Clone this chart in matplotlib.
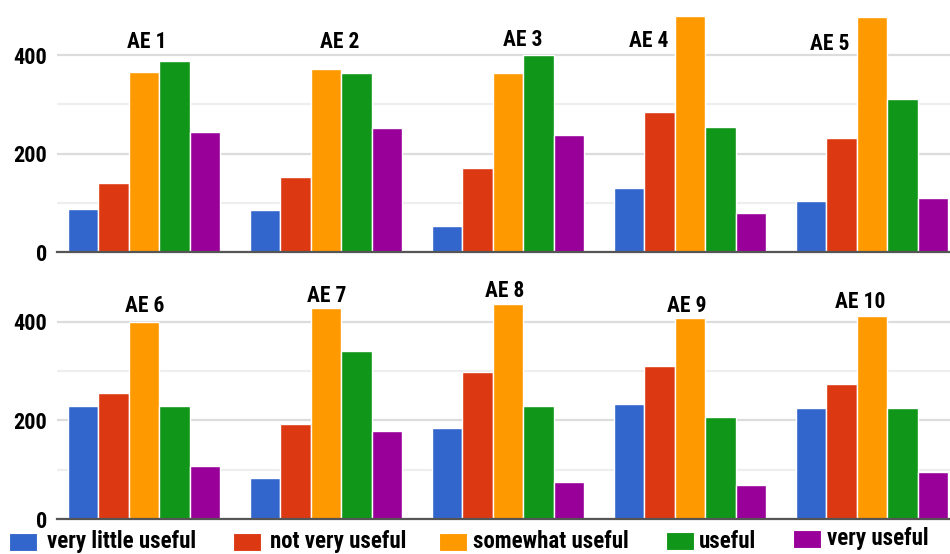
import matplotlib
matplotlib.use("Agg")
import matplotlib.pyplot as plt
from matplotlib import font_manager as fm
from matplotlib.patches import Rectangle
import numpy as np

# ---- data ----
categories = ['AE 1', 'AE 2', 'AE 3', 'AE 4', 'AE 5',
              'AE 6', 'AE 7', 'AE 8', 'AE 9', 'AE 10']
series_names = ['very little useful', 'not very useful', 'somewhat useful',
                'useful', 'very useful']
very_little = [88, 86, 54, 131, 103, 230, 83, 185, 233, 225]
not_very = [140, 153, 170, 284, 231, 255, 193, 299, 310, 273]
somewhat = [366, 372, 363, 480, 477, 400, 428, 436, 408, 411]
useful = [388, 363, 400, 255, 310, 230, 340, 230, 207, 225]
very_useful = [244, 253, 238, 80, 111, 108, 179, 74, 68, 95]
y_ticks = [0, 200, 400]
y_tick_labels = ['0', '200', '400']

series = [very_little, not_very, somewhat, useful, very_useful]
colors = ['#3366cc', '#dc3912', '#ff9900', '#109618', '#990099']

# ---- font ----
available = {f.name for f in fm.fontManager.ttflist}
family = 'DejaVu Sans'
for cand in ['Liberation Sans Narrow', 'Roboto Condensed', 'DejaVu Sans Condensed',
             'Open Sans Condensed', 'Liberation Sans']:
    if cand in available:
        family = cand
        break
plt.rcParams['font.family'] = [family, 'DejaVu Sans']
plt.rcParams['font.weight'] = 'bold'

W, H = 950, 554
fig = plt.figure(figsize=(W / 100, H / 100), dpi=100)

# title label positions (data x offset, data y) per panel
title_pos = [(0.016, 427), (1.077, 426), (2.082, 430), (2.775, 428), (3.769, 423),
             (0.005, 431), (1.005, 453), (1.984, 462), (2.984, 432), (3.934, 440)]

px_per_unit = 197.3 / 400.0
left_px, right_px = 57, 950
center0_px, pitch_px = 144, 182
xlim = (-(center0_px - left_px) / pitch_px, (right_px - center0_px) / pitch_px)

panels = [
    dict(bottom_px=252.3, top_px=0.0, idx=range(0, 5)),
    dict(bottom_px=519.0, top_px=268.0, idx=range(5, 10)),
]

bar_w = 30.4 / pitch_px
for p in panels:
    height_px = p['bottom_px'] - p['top_px']
    ax = fig.add_axes([left_px / W, (H - p['bottom_px']) / H,
                       (right_px - left_px) / W, height_px / H])
    idx = list(p['idx'])
    x = np.arange(len(idx))
    for j, (vals, c) in enumerate(zip(series, colors)):
        ax.bar(x + (j - 2) * bar_w, [vals[i] for i in idx], width=bar_w,
               color=c, edgecolor='white', linewidth=1.0, zorder=3)
    ax.set_xlim(*xlim)
    ax.set_ylim(0, height_px / px_per_unit)
    ax.set_yticks(y_ticks)
    ax.set_yticklabels(y_tick_labels)
    ax.set_yticks([100, 300], minor=True)
    ax.grid(which='major', axis='y', color='#dcdcdc', lw=1.6, zorder=0)
    ax.grid(which='minor', axis='y', color='#eeeeee', lw=1.6, zorder=0)
    ax.tick_params(axis='y', which='both', length=0, pad=7, labelsize=16)
    ax.set_xticks([])
    for s in ['top', 'right', 'left']:
        ax.spines[s].set_visible(False)
    ax.spines['bottom'].set_color('#555555')
    ax.spines['bottom'].set_linewidth(1.6)
    ax.spines['bottom'].set_zorder(4)
    for i in idx:
        tx, ty = title_pos[i]
        ax.text(tx, ty, categories[i], ha='center', va='center',
                fontsize=15.5, fontweight='bold', color='black', zorder=5,
                clip_on=False)

# ---- legend (manual layout, pixel positions from top-left) ----
sq_x = [9, 233, 439, 666, 793]
sq_top = [533, 533, 533, 532, 530]
txt_x = [47, 270, 473, 699, 827]
txt_base = [548, 548, 548, 548, 545]
sq_w, sq_h = 28, 18
for name, c, sx, st, tx, tb in zip(series_names, colors, sq_x, sq_top, txt_x, txt_base):
    fig.add_artist(Rectangle((sx / W, 1 - (st + sq_h) / H), sq_w / W, sq_h / H,
                             transform=fig.transFigure, facecolor=c,
                             edgecolor='white', linewidth=0.8))
    fig.text(tx / W, 1 - tb / H, name, ha='left', va='baseline',
             fontsize=16.5, fontweight='bold', color='black')

fig.savefig('out.png', dpi=100)
